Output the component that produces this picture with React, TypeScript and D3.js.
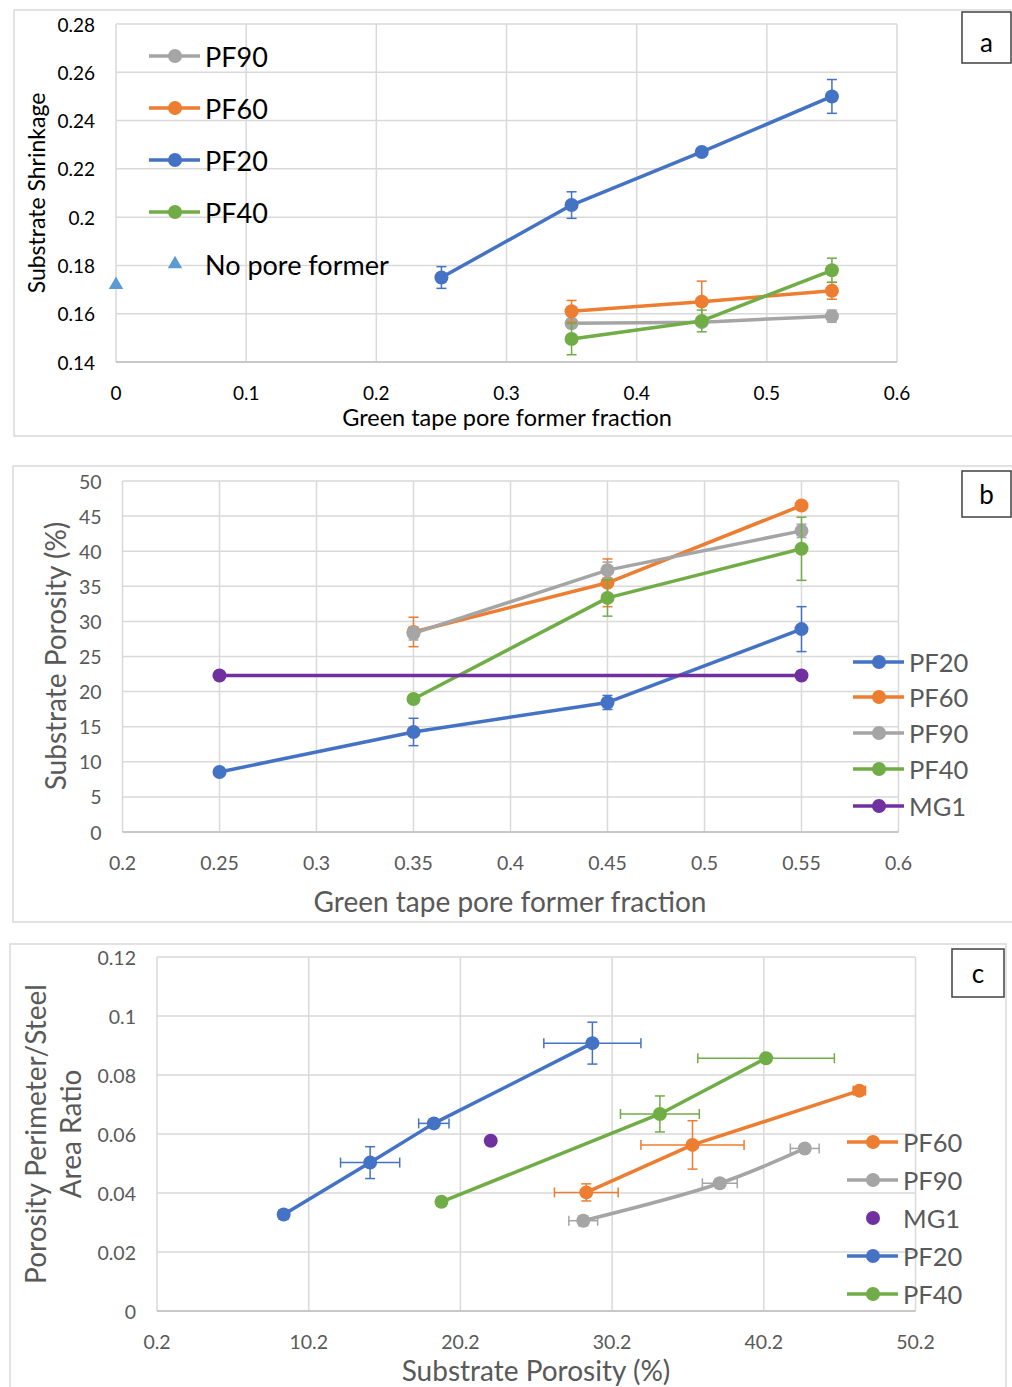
import React from "react";
import * as d3 from "d3";

const FONT = "Lato, 'Open Sans', sans-serif";
const COLORS: Record<string, string> = {
  PF20: "#4472C4",
  PF60: "#ED7D31",
  PF90: "#A5A5A5",
  PF40: "#70AD47",
  MG1: "#7030A0",
  NPF: "#5B9BD5",
};

// ---- panel a: shrinkage vs green tape pore former fraction
const fracPF20 = [0.25, 0.35, 0.45, 0.55];
const fracOthers = [0.35, 0.45, 0.55];
const shrinkPF20 = [0.175, 0.205, 0.227, 0.25];
const shrinkErrPF20 = [0.0045, 0.0055, 0.001, 0.007];
const shrinkPF60 = [0.161, 0.165, 0.1695];
const shrinkErrPF60 = [0.0045, 0.0085, 0.0035];
const shrinkPF90 = [0.156, 0.1565, 0.159];
const shrinkErrPF90 = [0.001, 0.001, 0.0025];
const shrinkPF40 = [0.1495, 0.157, 0.178];
const shrinkErrPF40 = [0.0065, 0.0045, 0.005];
const fracNoPore = [0];
const shrinkNoPore = [0.172];

// ---- panel b: porosity vs fraction
const porPF20 = [8.55, 14.25, 18.45, 28.9];
const porErrPF20 = [0.3, 1.95, 1.0, 3.2];
const porPF60 = [28.5, 35.5, 46.5];
const porErrPF60 = [2.1, 3.4, 0.4];
const porPF90 = [28.3, 37.3, 42.9];
const porErrPF90 = [0.95, 1.15, 0.95];
const porPF40 = [18.95, 33.35, 40.35];
const porErrPF40 = [0.3, 2.6, 4.5];
const fracMG1 = [0.25, 0.55];
const porMG1 = [22.3, 22.3];

// ---- panel c: perimeter/area ratio vs porosity
const ratioPF20 = [0.0327, 0.0503, 0.0636, 0.0908];
const ratioErrPF20 = [0.0005, 0.0054, 0.001, 0.0071];
const ratioPF40 = [0.037, 0.0668, 0.0857];
const ratioErrPF40 = [0.0005, 0.0061, 0.0005];
const ratioPF60 = [0.0402, 0.0563, 0.0747];
const ratioErrPF60 = [0.0029, 0.0082, 0.0013];
const ratioPF90 = [0.0306, 0.0433, 0.0551];
const ratioErrPF90 = [0.0017, 0.001, 0.0008];
const porMG1Single = [22.2];
const ratioMG1 = [0.0577];

const ticksXA = [0, 0.1, 0.2, 0.3, 0.4, 0.5, 0.6];
const ticksYA = [0.14, 0.16, 0.18, 0.2, 0.22, 0.24, 0.26, 0.28];
const ticksXB = [0.2, 0.25, 0.3, 0.35, 0.4, 0.45, 0.5, 0.55, 0.6];
const ticksYB = [0, 5, 10, 15, 20, 25, 30, 35, 40, 45, 50];
const ticksXC = [0.2, 10.2, 20.2, 30.2, 40.2, 50.2];
const ticksYC = [0, 0.02, 0.04, 0.06, 0.08, 0.1, 0.12];

type Series = {
  name: string;
  x: number[];
  y: number[];
  ex?: number[];
  ey?: number[];
  line?: boolean;
  marker?: "circle" | "triangle";
  smooth?: boolean;
};

const zip = (s: Series) => s.x.map((x, i) => ({ x, y: s.y[i], ex: s.ex?.[i] ?? 0, ey: s.ey?.[i] ?? 0 }));

type PanelProps = {
  box: [number, number, number, number];
  plot: { left: number; right: number; top: number; bottom: number };
  xDomain: [number, number];
  yDomain: [number, number];
  xTicks: number[];
  yTicks: number[];
  tickColor: string;
  tickSize: number;
  series: Series[];
  legend: { name: string; marker: "line" | "dot" | "triangle"; y: number }[];
  legendX: number;
  legendSize: number;
  xTitle: { text: string; x: number; y: number; size: number };
  yTitle: { lines: string[]; x: number[]; y: number; size: number };
  titleColor: string;
  label: { text: string; x: number; y: number; w: number; h: number; dy: number };
};

function Panel(p: PanelProps) {
  const xs = d3.scaleLinear().domain(p.xDomain).range([p.plot.left, p.plot.right]);
  const ys = d3.scaleLinear().domain(p.yDomain).range([p.plot.bottom, p.plot.top]);
  const fx = (v: number) => `${+v.toFixed(4)}`;
  const [bx, by, bw, bh] = p.box;
  return (
    <g>
      <rect x={bx} y={by} width={bw} height={bh} fill="#fff" stroke="#d9d9d9" strokeWidth={1.5} />
      {p.yTicks.map((t) => (
        <line key={"gy" + t} x1={p.plot.left} x2={p.plot.right} y1={ys(t)} y2={ys(t)} stroke="#d9d9d9" strokeWidth={1.5} />
      ))}
      {p.xTicks.map((t) => (
        <line key={"gx" + t} x1={xs(t)} x2={xs(t)} y1={p.plot.top} y2={p.plot.bottom} stroke="#d9d9d9" strokeWidth={1.5} />
      ))}
      <line x1={p.plot.left} x2={p.plot.right} y1={p.plot.bottom} y2={p.plot.bottom} stroke="#bfbfbf" strokeWidth={1.5} />
      {p.yTicks.map((t) => (
        <text key={"ty" + t} x={p.plot.left - 21} y={ys(t)} textAnchor="end" dominantBaseline="central"
          fontSize={p.tickSize} fill={p.tickColor} fontFamily={FONT}>{fx(t)}</text>
      ))}
      {p.xTicks.map((t) => (
        <text key={"tx" + t} x={xs(t)} y={p.plot.bottom + 30} textAnchor="middle" dominantBaseline="central"
          fontSize={p.tickSize} fill={p.tickColor} fontFamily={FONT}>{fx(t)}</text>
      ))}
      {p.series.map((s) => {
        const pts = zip(s);
        const color = COLORS[s.name];
        const lineGen = d3.line<{ x: number; y: number }>()
          .x((d) => xs(d.x))
          .y((d) => ys(d.y))
          .curve(s.smooth ? d3.curveCatmullRom.alpha(0.5) : d3.curveLinear);
        return (
          <g key={s.name}>
            {s.line && <path d={lineGen(pts) || ""} fill="none" stroke={color} strokeWidth={3.5} strokeLinejoin="round" />}
            {pts.map((d, i) => (
              <g key={i} stroke={color} strokeWidth={1.5}>
                {d.ey > 0 && (
                  <>
                    <line x1={xs(d.x)} x2={xs(d.x)} y1={ys(d.y - d.ey)} y2={ys(d.y + d.ey)} />
                    <line x1={xs(d.x) - 5} x2={xs(d.x) + 5} y1={ys(d.y - d.ey)} y2={ys(d.y - d.ey)} />
                    <line x1={xs(d.x) - 5} x2={xs(d.x) + 5} y1={ys(d.y + d.ey)} y2={ys(d.y + d.ey)} />
                  </>
                )}
                {d.ex > 0 && (
                  <>
                    <line x1={xs(d.x - d.ex)} x2={xs(d.x + d.ex)} y1={ys(d.y)} y2={ys(d.y)} />
                    <line x1={xs(d.x - d.ex)} x2={xs(d.x - d.ex)} y1={ys(d.y) - 5} y2={ys(d.y) + 5} />
                    <line x1={xs(d.x + d.ex)} x2={xs(d.x + d.ex)} y1={ys(d.y) - 5} y2={ys(d.y) + 5} />
                  </>
                )}
              </g>
            ))}
            {pts.map((d, i) =>
              s.marker === "triangle" ? (
                <path key={"m" + i} d={d3.symbol(d3.symbolTriangle, 90)() || ""}
                  transform={`translate(${xs(d.x)},${ys(d.y)})`} fill={color} />
              ) : (
                <circle key={"m" + i} cx={xs(d.x)} cy={ys(d.y)} r={7} fill={color} />
              )
            )}
          </g>
        );
      })}
      {p.legend.map((l) => {
        const color = COLORS[l.name];
        const cx = p.legendX + 26;
        return (
          <g key={"lg" + l.name}>
            {l.marker === "line" && (
              <line x1={p.legendX} x2={p.legendX + 51} y1={l.y} y2={l.y} stroke={color} strokeWidth={3.5} />
            )}
            {l.marker === "triangle" ? (
              <path d={d3.symbol(d3.symbolTriangle, 90)() || ""} transform={`translate(${cx},${l.y})`} fill={color} />
            ) : (
              <circle cx={cx} cy={l.y} r={7} fill={color} />
            )}
            <text x={p.legendX + 56} y={l.y} dominantBaseline="central" fontSize={p.legendSize}
              fill={p.titleColor} fontFamily={FONT}>{l.name === "NPF" ? "No pore former" : l.name}</text>
          </g>
        );
      })}
      <text x={p.xTitle.x} y={p.xTitle.y} textAnchor="middle" dominantBaseline="central" fontSize={p.xTitle.size}
        fill={p.titleColor} fontFamily={FONT}>{p.xTitle.text}</text>
      {p.yTitle.lines.map((t, i) => (
        <text key={t} transform={`translate(${p.yTitle.x[i]},${p.yTitle.y}) rotate(-90)`} textAnchor="middle"
          dominantBaseline="central" fontSize={p.yTitle.size} fill={p.titleColor} fontFamily={FONT}>{t}</text>
      ))}
      <rect x={p.label.x} y={p.label.y} width={p.label.w} height={p.label.h} fill="#fff" stroke="#404040" strokeWidth={1.5} />
      <text x={p.label.x + p.label.w / 2} y={p.label.y + p.label.h / 2 + p.label.dy} textAnchor="middle" dominantBaseline="central"
        fontSize={26} fill="#000" fontFamily={FONT}>{p.label.text}</text>
    </g>
  );
}

export default function App() {
  const seriesA: Series[] = [
    { name: "PF90", x: fracOthers, y: shrinkPF90, ey: shrinkErrPF90, line: true },
    { name: "PF60", x: fracOthers, y: shrinkPF60, ey: shrinkErrPF60, line: true },
    { name: "PF20", x: fracPF20, y: shrinkPF20, ey: shrinkErrPF20, line: true },
    { name: "PF40", x: fracOthers, y: shrinkPF40, ey: shrinkErrPF40, line: true },
    { name: "NPF", x: fracNoPore, y: shrinkNoPore, marker: "triangle" },
  ];
  const seriesB: Series[] = [
    { name: "PF20", x: fracPF20, y: porPF20, ey: porErrPF20, line: true },
    { name: "PF60", x: fracOthers, y: porPF60, ey: porErrPF60, line: true },
    { name: "PF90", x: fracOthers, y: porPF90, ey: porErrPF90, line: true },
    { name: "PF40", x: fracOthers, y: porPF40, ey: porErrPF40, line: true },
    { name: "MG1", x: fracMG1, y: porMG1, line: true },
  ];
  const seriesC: Series[] = [
    { name: "PF60", x: porPF60, y: ratioPF60, ex: porErrPF60, ey: ratioErrPF60, line: true },
    { name: "PF90", x: porPF90, y: ratioPF90, ex: porErrPF90, ey: ratioErrPF90, line: true, smooth: true },
    { name: "MG1", x: porMG1Single, y: ratioMG1 },
    { name: "PF20", x: porPF20, y: ratioPF20, ex: porErrPF20, ey: ratioErrPF20, line: true },
    { name: "PF40", x: porPF40, y: ratioPF40, ex: porErrPF40, ey: ratioErrPF40, line: true },
  ];

  return (
    <svg width={1012} height={1387} style={{ position: "absolute", left: 0, top: 0, background: "#fff" }}>
      <Panel
        box={[14, 10, 1010, 426]}
        plot={{ left: 116, right: 897, top: 24, bottom: 362 }}
        xDomain={[0, 0.6]}
        yDomain={[0.14, 0.28]}
        xTicks={ticksXA}
        yTicks={ticksYA}
        tickColor="#000"
        tickSize={19}
        series={seriesA}
        legend={[
          { name: "PF90", marker: "line", y: 56 },
          { name: "PF60", marker: "line", y: 108 },
          { name: "PF20", marker: "line", y: 160 },
          { name: "PF40", marker: "line", y: 212 },
          { name: "NPF", marker: "triangle", y: 264 },
        ]}
        legendX={149}
        legendSize={27}
        xTitle={{ text: "Green tape pore former fraction", x: 507, y: 417, size: 23.5 }}
        yTitle={{ lines: ["Substrate Shrinkage"], x: [36], y: 193, size: 23 }}
        titleColor="#000"
        label={{ text: "a", x: 962, y: 12, w: 49, h: 51, dy: 4 }}
      />
      <Panel
        box={[13, 466, 1010, 456]}
        plot={{ left: 122.5, right: 898.5, top: 481, bottom: 832 }}
        xDomain={[0.2, 0.6]}
        yDomain={[0, 50]}
        xTicks={ticksXB}
        yTicks={ticksYB}
        tickColor="#595959"
        tickSize={19.5}
        series={seriesB}
        legend={[
          { name: "PF20", marker: "line", y: 662 },
          { name: "PF60", marker: "line", y: 697 },
          { name: "PF90", marker: "line", y: 733 },
          { name: "PF40", marker: "line", y: 769 },
          { name: "MG1", marker: "line", y: 806 },
        ]}
        legendX={853}
        legendSize={25.5}
        xTitle={{ text: "Green tape pore former fraction", x: 510, y: 901, size: 28 }}
        yTitle={{ lines: ["Substrate Porosity (%)"], x: [55], y: 656, size: 28 }}
        titleColor="#595959"
        label={{ text: "b", x: 962, y: 471, w: 49, h: 46, dy: 0 }}
      />
      <Panel
        box={[10, 944, 996, 460]}
        plot={{ left: 157, right: 915.5, top: 957, bottom: 1311 }}
        xDomain={[0.2, 50.2]}
        yDomain={[0, 0.12]}
        xTicks={ticksXC}
        yTicks={ticksYC}
        tickColor="#595959"
        tickSize={19.5}
        series={seriesC}
        legend={[
          { name: "PF60", marker: "line", y: 1142 },
          { name: "PF90", marker: "line", y: 1180 },
          { name: "MG1", marker: "dot", y: 1218 },
          { name: "PF20", marker: "line", y: 1256 },
          { name: "PF40", marker: "line", y: 1294 },
        ]}
        legendX={847}
        legendSize={25.5}
        xTitle={{ text: "Substrate Porosity (%)", x: 536, y: 1370, size: 28 }}
        yTitle={{ lines: ["Porosity Perimeter/Steel", "Area Ratio"], x: [35, 70], y: 1134, size: 28 }}
        titleColor="#595959"
        label={{ text: "c", x: 952, y: 949, w: 52, h: 48, dy: 0 }}
      />
    </svg>
  );
}
